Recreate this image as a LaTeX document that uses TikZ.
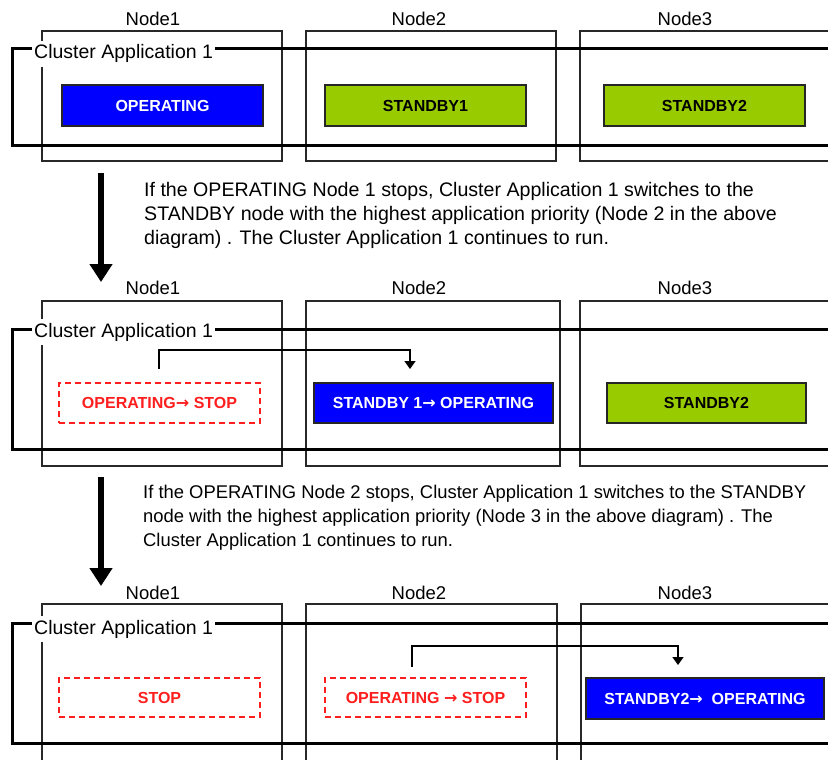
\documentclass[tikz,border=0pt]{standalone}
\usepackage{fontspec}
\setmainfont{Liberation Sans}
\newfontfamily\arrowfnt{DejaVu Sans}
\newcommand{\stArr}{{\arrowfnt →}}
\usetikzlibrary{arrows.meta,calc}
\definecolor{opblue}{RGB}{0,0,255}
\definecolor{sbgreen}{RGB}{153,204,0}
\definecolor{stopred}{RGB}{255,30,30}
\definecolor{hostgray}{RGB}{40,40,40}
\begin{document}
\begin{tikzpicture}[x=1pt,y=-1pt,
  hostbox/.style={draw=hostgray, line width=1.3pt},
  clusterbox/.style={draw=black, line width=3pt},
  clusterlabel/.style={fill=white, anchor=base west, inner xsep=2pt, inner ysep=4pt,
    font=\fontsize{19.5}{22}\selectfont},
  hostlabel/.style={anchor=base, font=\fontsize{18.5}{21}\selectfont},
  statebox/.style={line width=1.2pt, inner sep=0pt, font=\bfseries\fontsize{16}{18}\selectfont},
  opbox/.style={statebox, draw=black!85, fill=opblue, text=white},
  sbbox/.style={statebox, draw=black!85, fill=sbgreen, text=black},
  stopbox/.style={statebox, draw=stopred, dash pattern=on 6pt off 4pt, text=stopred},
  flow/.style={line width=6pt, -{Triangle[width=22pt,length=18pt]}},
  conn/.style={line width=1.5pt, -{Triangle[width=11pt,length=8pt]}},
  desc/.style={anchor=north west, align=left, inner sep=0pt}
]
\useasboundingbox (0,0) rectangle (828,760);
\clip (0,0) rectangle (828,760);

% ---------------- Panel 1 ----------------
\node[hostlabel] (l1a) at (153,26) {Node1};
\node[hostlabel] (l1b) at (419,26) {Node2};
\node[hostlabel] (l1c) at (685,26) {Node3};
\draw[hostbox] (42,31) rectangle (282,161);
\draw[hostbox] (306,31) rectangle (556,161);
\draw[hostbox] (580,31) rectangle (840,161);
\draw[clusterbox] (12,49) rectangle (840,145);
\node[clusterlabel] (ca1) at (32,59) {Cluster Application 1};
\node[opbox, minimum width=201pt, minimum height=41pt] (p1a) at (162.5,105.5) {OPERATING};
\node[sbbox, minimum width=201pt, minimum height=41pt] (p1b) at (425.5,105.5) {STANDBY1};
\node[sbbox, minimum width=201pt, minimum height=41pt] (p1c) at (704.5,105.5) {STANDBY2};

% transition 1
\coordinate (f1s) at (101,173);
\coordinate (f1e) at (101,282);
\draw[flow] (f1s) -- (f1e);
\node[desc, font=\fontsize{19.6}{24}\selectfont] (d1) at (144,182) {If the OPERATING Node 1 stops, Cluster Application 1 switches to the\\
STANDBY node with the highest application priority (Node 2 in the above\\
diagram) . The Cluster Application 1 continues to run.};

% ---------------- Panel 2 ----------------
\node[hostlabel] (l2a) at (153,294) {Node1};
\node[hostlabel] (l2b) at (419,294) {Node2};
\node[hostlabel] (l2c) at (685,294) {Node3};
\draw[hostbox] (42,301) rectangle (282,466);
\draw[hostbox] (306,301) rectangle (560,466);
\draw[hostbox] (580,301) rectangle (840,466);
\draw[clusterbox] (12,329) rectangle (840,449);
\node[clusterlabel] (ca2) at (32,337) {Cluster Application 1};
\node[stopbox, minimum width=201pt, minimum height=40pt] (p2a) at (159.5,403) {OPERATING\stArr\ STOP};
\node[opbox, minimum width=239pt, minimum height=40pt] (p2b) at (433.5,403) {STANDBY 1\stArr\ OPERATING};
\node[sbbox, minimum width=199pt, minimum height=40pt] (p2c) at (706.5,403) {STANDBY2};
\coordinate (c2s) at (159,369);
\coordinate (c2e) at (410,369);
\draw[conn] (c2s) -- ++(0,-19) -| (c2e);

% transition 2
\coordinate (f2s) at (101,477);
\coordinate (f2e) at (101,586);
\draw[flow] (f2s) -- (f2e);
\node[desc, font=\fontsize{18.4}{24}\selectfont] (d2) at (143,484.5) {If the OPERATING Node 2 stops, Cluster Application 1 switches to the STANDBY\\
node with the highest application priority (Node 3 in the above diagram) . The\\
Cluster Application 1 continues to run.};

% ---------------- Panel 3 ----------------
\node[hostlabel] (l3a) at (153,599) {Node1};
\node[hostlabel] (l3b) at (419,599) {Node2};
\node[hostlabel] (l3c) at (685,599) {Node3};
\draw[hostbox] (42,604) rectangle (282,775);
\draw[hostbox] (306,604) rectangle (557,775);
\draw[hostbox] (581,604) rectangle (840,775);
\draw[clusterbox] (12,623) rectangle (840,743);
\node[clusterlabel] (ca3) at (32,634) {Cluster Application 1};
\node[stopbox, minimum width=201pt, minimum height=39pt] (p3a) at (159.5,697.5) {STOP};
\node[stopbox, minimum width=201pt, minimum height=39pt] (p3b) at (425.5,697.5) {OPERATING \stArr\ STOP};
\node[opbox, minimum width=238pt, minimum height=41pt] (p3c) at (705,698.5) {STANDBY2\stArr\ \ OPERATING};
\coordinate (c3s) at (412,667);
\coordinate (c3e) at (678,665);
\draw[conn] (c3s) -- ++(0,-21) -| (c3e);
\end{tikzpicture}
\end{document}
